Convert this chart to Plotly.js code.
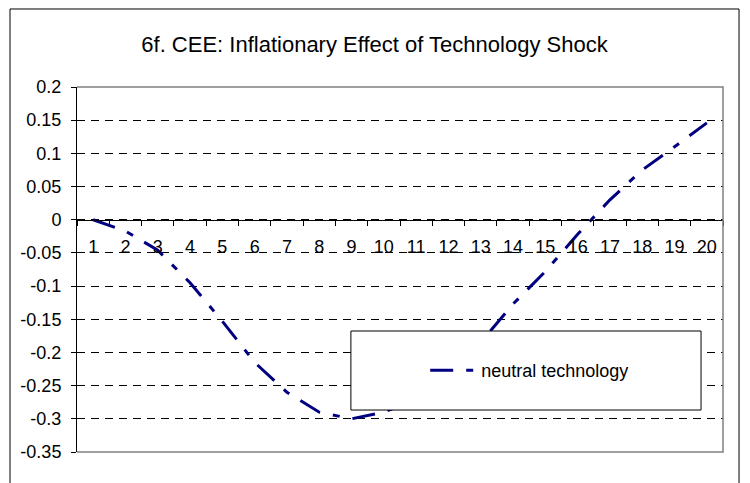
<!DOCTYPE html>
<html>
<head>
<meta charset="utf-8">
<script src="https://cdn.plot.ly/plotly-3.0.1.min.js"></script>
<style>
  html, body { margin: 0; padding: 0; background: #fff; }
  #chart { width: 750px; height: 483px; }
</style>
</head>
<body>
<div id="chart"></div>
<script>
const periods = ['1', '2', '3', '4', '5', '6', '7', '8', '9', '10',
  '11', '12', '13', '14', '15', '16', '17', '18', '19', '20'];
const neutralTechnology = [0, -0.017, -0.046, -0.095, -0.153, -0.215, -0.26, -0.29, -0.3, -0.29,
  -0.27, -0.235, -0.185, -0.127, -0.078, -0.022, 0.03, 0.075, 0.11, 0.146];
const yTickVals = [0.2, 0.15, 0.1, 0.05, 0, -0.05, -0.1, -0.15, -0.2, -0.25, -0.3, -0.35];
const yTickText = ['0.2', '0.15', '0.1', '0.05', '0', '-0.05', '-0.1', '-0.15', '-0.2', '-0.25', '-0.3', '-0.35'];

const font = 'Liberation Sans, Arial, sans-serif';
const yMin = -0.35;
const yMax = 0.2;

Plotly.newPlot('chart', [{
  type: 'scatter',
  mode: 'lines',
  name: 'neutral technology',
  x: periods,
  y: neutralTechnology,
  line: { color: '#000080', width: 3, dash: '23px,13px,7px,13px' },
}], {
  width: 750,
  height: 483,
  margin: { l: 77, r: 27, t: 87, b: 31 },
  paper_bgcolor: '#fff',
  plot_bgcolor: '#fff',
  font: { family: font, size: 18, color: '#000' },
  title: {
    text: '6f. CEE: Inflationary Effect of Technology Shock',
    font: { family: font, size: 22, color: '#000' },
    xref: 'container', x: 0.4993, xanchor: 'center',
    yref: 'container', y: 0.909, yanchor: 'middle',
  },
  xaxis: {
    type: 'category',
    range: [-0.5, periods.length - 0.5],
    anchor: 'free',
    position: (0 - yMin) / (yMax - yMin),
    showgrid: false,
    showline: true,
    linecolor: '#000',
    linewidth: 1,
    ticks: 'outside',
    tickson: 'boundaries',
    ticklen: 5,
    tickcolor: '#000',
    ticklabelstandoff: 11,
    zeroline: false,
    fixedrange: true,
  },
  yaxis: {
    range: [yMin, yMax],
    tickvals: yTickVals,
    ticktext: yTickText,
    showgrid: true,
    gridcolor: '#000',
    gridwidth: 1,
    griddash: '8px,6px',
    zeroline: false,
    showline: true,
    linecolor: '#000',
    linewidth: 1,
    ticks: 'outside',
    ticklen: 5,
    tickcolor: '#000',
    ticklabelstandoff: 6,
    fixedrange: true,
  },
  showlegend: true,
  legend: {
    x: 0.539, xanchor: 'left',
    y: 0.223, yanchor: 'middle',
    bgcolor: 'rgba(0,0,0,0)',
    borderwidth: 0,
    itemwidth: 46,
    font: { family: font, size: 18, color: '#000' },
  },
  shapes: [
    // plot area frame (top, right, bottom)
    { type: 'path', xref: 'paper', yref: 'paper', path: 'M 0 1 L 1 1 L 1 0 L 0 0',
      line: { color: '#808080', width: 1.5 }, layer: 'above' },
    // legend box
    { type: 'rect', xref: 'paper', yref: 'paper', x0: 0.424, x1: 0.966, y0: 0.115, y1: 0.3315,
      fillcolor: '#fff', line: { color: '#000', width: 1 }, layer: 'above' },
    // outer chart border
    { type: 'rect', xref: 'paper', yref: 'paper', x0: -0.1037, x1: 1.0248, y0: -0.2, y1: 1.2137,
      line: { color: '#000', width: 1 }, layer: 'above' },
  ],
}, { displayModeBar: false, staticPlot: true });
</script>
</body>
</html>
